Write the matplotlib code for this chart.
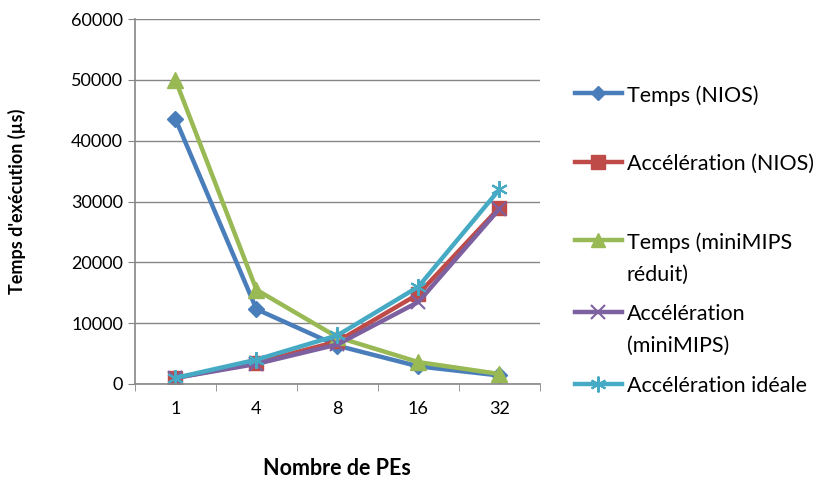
import matplotlib.pyplot as plt
from matplotlib.lines import Line2D
import numpy as np

plt.rcParams['font.family'] = ['Lato', 'DejaVu Sans']

# Number of PEs (categories on the x axis)
pes = ['1', '4', '8', '16', '32']

# Series values
temps_nios = [43600, 12300, 6300, 2900, 1400]
accel_nios = [1000, 3500, 7000, 14800, 29000]
temps_minimips = [50000, 15500, 7700, 3600, 1650]
accel_minimips = [1000, 3300, 6500, 13500, 28800]
accel_ideale = [1000, 4000, 8000, 16000, 32000]

labels = ['Temps (NIOS)', 'Accélération (NIOS)', 'Temps (miniMIPS\nréduit)',
          'Accélération\n(miniMIPS)', 'Accélération idéale']

fig = plt.figure(figsize=(8.18, 4.8), dpi=100)
ax = fig.add_axes([0.165, 0.2, 0.495, 0.76])

x = np.arange(len(pes))
lw = 3.2
ax.plot(x, temps_nios, color='#4A7EBB', lw=lw, marker='D', ms=8)
ax.plot(x, accel_nios, color='#BE4B48', lw=lw, marker='s', ms=10)
ax.plot(x, temps_minimips, color='#98B954', lw=lw, marker='^', ms=11)
ax.plot(x, accel_minimips, color='#7D60A0', lw=lw, marker='x', ms=10, mew=1.5)
ax.plot(x, accel_ideale, color='#46AAC5', lw=lw, marker=(6, 2, 0), ms=12, mew=1.5)

ax.set_xlim(-0.5, len(pes) - 0.5)
ax.set_ylim(0, 60000)
ax.set_yticks(np.arange(0, 60001, 10000))
ax.set_xticks(x)
ax.set_xticklabels(pes)
ax.set_xticks(np.arange(-0.5, len(pes)), minor=True)
ax.tick_params(axis='x', which='major', length=0, labelsize=13, pad=12)
ax.tick_params(axis='x', which='minor', length=5, color='#868686')
ax.tick_params(axis='y', length=5, color='#868686', labelsize=13)
ax.grid(axis='y', color='#868686', lw=1)
ax.set_axisbelow(True)
for s in ['top', 'right']:
    ax.spines[s].set_visible(False)
for s in ['left', 'bottom']:
    ax.spines[s].set_color('#868686')
    ax.spines[s].set_linewidth(1.2)

ax.set_xlabel('Nombre de PEs', fontsize=15.5, fontweight='bold', labelpad=30)
ax.set_ylabel("Temps d'exécution (µs)", fontsize=13, fontweight='bold')
ax.yaxis.set_label_coords(-0.27, 0.5)

# Excel-style legend: handle aligned with first line of each label
W, H = 818, 480
leg_y = [93, 162, 240, 312, 384]
for line, lab, yy in zip(ax.get_lines(), labels, leg_y):
    yf = 1 - yy / H
    h = Line2D([575 / W, 622 / W], [yf, yf], transform=fig.transFigure,
               color=line.get_color(), lw=lw)
    m = Line2D([598 / W], [yf], transform=fig.transFigure,
               color=line.get_color(), marker=line.get_marker(),
               ms=line.get_markersize() * 0.95, mew=line.get_markeredgewidth())
    fig.add_artist(h)
    fig.add_artist(m)
    fig.text(627 / W, yf + 0.5 * 15.5 / 72 * 100 / H * 0.75, lab, fontsize=15.5,
             va='top', ha='left', linespacing=1.75)

fig.savefig('out.png', dpi=100)
